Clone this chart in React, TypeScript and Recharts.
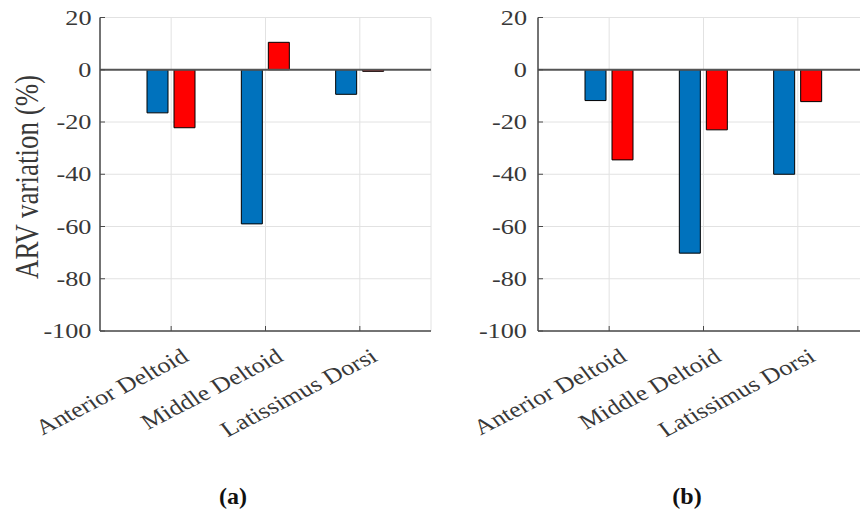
import React from 'react';
import { BarChart, Bar, XAxis, YAxis, CartesianGrid, ReferenceLine, Label } from 'recharts';

const categories = ['Anterior Deltoid', 'Middle Deltoid', 'Latissimus Dorsi'];
const panelABlue = [-16.5, -59, -9.4];
const panelARed = [-22.2, 10.5, -0.6];
const panelBBlue = [-11.8, -70.2, -40];
const panelBRed = [-34.5, -23, -12.2];
const yTicks = [-100, -80, -60, -40, -20, 0, 20];
const yLabel = 'ARV variation (%)';
const captions = ['(a)', '(b)'];

const FONT = '"Liberation Serif", "Times New Roman", serif';
const TEXT = '#383838';
const AXIS = '#4a4a4a';

const buildData = (blue: number[], red: number[]) =>
  categories.map((name, i) => ({ name, blue: blue[i], red: red[i] }));

const XTick = (props: any) => {
  const { x, y, payload } = props;
  return (
    <text
      transform={`translate(${x + 19},${y + 29}) scale(1.22,1) rotate(-32)`}
      textAnchor="end"
      fontFamily={FONT}
      fontSize={21.5}
      fill={TEXT}
    >
      {payload.value}
    </text>
  );
};

const YTick = (props: any) => {
  const { x, y, payload } = props;
  return (
    <text
      transform={`translate(${x},${y + 7}) scale(1.25,1)`}
      textAnchor="end"
      fontFamily={FONT}
      fontSize={21}
      fill={TEXT}
    >
      {payload.value}
    </text>
  );
};

const EmptyTick = () => null;

type PanelProps = {
  blue: number[];
  red: number[];
  left: number;
  width: number;
  marginLeft: number;
  marginRight: number;
  tickMargin: number;
  showLabel: boolean;
};

const Panel = ({ blue, red, left, width, marginLeft, marginRight, tickMargin, showLabel }: PanelProps) => {
  const data = buildData(blue, red);
  return (
    <div style={{ position: 'absolute', left, top: 0 }}>
      <BarChart
        width={width}
        height={511}
        data={data}
        margin={{ top: 17.5, right: marginRight, bottom: 140, left: marginLeft }}
        barSize={21}
        barGap={6}
      >
        <CartesianGrid stroke="#e2e2e2" strokeWidth={1} />
        <XAxis
          dataKey="name"
          padding={{ left: 24, right: 24 }}
          height={40}
          tick={<XTick />}
          tickSize={-5}
          tickMargin={5}
          tickLine={{ stroke: AXIS }}
          axisLine={{ stroke: AXIS, strokeWidth: 1.5 }}
          interval={0}
        />
        <XAxis
          xAxisId="top"
          orientation="top"
          dataKey="name"
          padding={{ left: 24, right: 24 }}
          height={0}
          tick={EmptyTick}
          tickSize={-5}
          tickLine={{ stroke: AXIS }}
          axisLine={{ stroke: AXIS, strokeWidth: 1.5 }}
          interval={0}
        />
        <YAxis
          domain={[-100, 20]}
          ticks={yTicks}
          width={40}
          tick={<YTick />}
          tickSize={-5}
          tickMargin={tickMargin}
          tickLine={{ stroke: AXIS }}
          axisLine={{ stroke: AXIS, strokeWidth: 1.5 }}
          interval={0}
        >
          {showLabel && (
            <Label
              content={() => (
                <text
                  transform="translate(38,177) scale(1.25,1) rotate(-90)"
                  textAnchor="middle"
                  fontFamily={FONT}
                  fontSize={27}
                  fill={TEXT}
                >
                  {yLabel}
                </text>
              )}
            />
          )}
        </YAxis>
        <YAxis
          yAxisId="r"
          orientation="right"
          domain={[-100, 20]}
          ticks={yTicks}
          width={0}
          tick={EmptyTick}
          tickSize={-5}
          tickLine={{ stroke: AXIS }}
          axisLine={{ stroke: AXIS, strokeWidth: 1.5 }}
          interval={0}
        />
        <Bar dataKey="blue" fill="#0072BD" stroke="#000" strokeWidth={1} isAnimationActive={false} />
        <Bar dataKey="red" fill="#FF0000" stroke="#000" strokeWidth={1} isAnimationActive={false} />
        <ReferenceLine y={0} stroke="#555" strokeWidth={1.8} />
      </BarChart>
    </div>
  );
};

export default function App() {
  return (
    <div
      style={{
        position: 'absolute',
        left: 0,
        top: 0,
        width: 860,
        height: 511,
        overflow: 'hidden',
        background: '#fff',
      }}
    >
      <Panel
        blue={panelABlue}
        red={panelARed}
        left={0}
        width={460}
        marginLeft={60}
        marginRight={29}
        tickMargin={13.5}
        showLabel={true}
      />
      <Panel
        blue={panelBBlue}
        red={panelBRed}
        left={440}
        width={440}
        marginLeft={58}
        marginRight={11}
        tickMargin={16}
        showLabel={false}
      />
      <svg
        width={860}
        height={511}
        style={{ position: 'absolute', left: 0, top: 0, pointerEvents: 'none' }}
      >
        <text x={233} y={504} textAnchor="middle" fontFamily={FONT} fontWeight="bold" fontSize={24} fill="#111">
          {captions[0]}
        </text>
        <text x={687} y={504} textAnchor="middle" fontFamily={FONT} fontWeight="bold" fontSize={24} fill="#111">
          {captions[1]}
        </text>
      </svg>
    </div>
  );
}
